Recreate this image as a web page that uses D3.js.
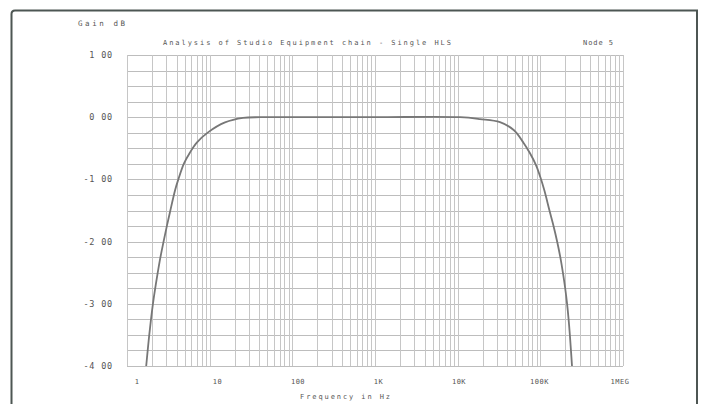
<!DOCTYPE html>
<html>
<head>
<meta charset="utf-8">
<script src="https://cdn.jsdelivr.net/npm/d3@7/dist/d3.min.js"></script>
<style>
  html, body { margin: 0; padding: 0; background: #fff; }
  svg text { font-family: "DejaVu Sans Mono", "Liberation Mono", monospace; fill: #555; }
</style>
</head>
<body>
<svg id="chart" width="705" height="404"></svg>
<script>
// ---- data ----
const freqHz = [1.707, 1.775, 1.856, 1.951, 2.063, 2.193, 2.346, 2.535, 2.756, 3.047, 3.304, 3.808, 4.14, 4.892, 5.782, 7.029, 9.546, 15.33, 25.3, 40.6, 100, 1000, 10670, 18600, 32500, 48000, 62500, 75000, 88600, 100400, 112000, 129000, 143900, 160400, 174400, 188100, 199800, 210200, 219800, 227900, 235000, 241600];
const gainDb = [-4.00, -3.765, -3.508, -3.251, -2.994, -2.752, -2.511, -2.254, -2.013, -1.740, -1.531, -1.177, -1.016, -0.743, -0.566, -0.405, -0.244, -0.084, -0.011, 0.00, 0.00, 0.00, 0.00, -0.03, -0.08, -0.21, -0.41, -0.58, -0.77, -0.97, -1.18, -1.50, -1.74, -2.01, -2.25, -2.51, -2.75, -2.99, -3.25, -3.51, -3.76, -4.00];
const yTickValues = [1, 0, -1, -2, -3, -4];
const yTickLabels = ["1 00", "0 00", "-1 00", "-2 00", "-3 00", "-4 00"];
const xTickValues = [1, 10, 100, 1000, 10000, 100000, 1000000];
const xTickLabels = ["1", "10", "100", "1K", "10K", "100K", "1MEG"];
const titleText = "Analysis of Studio Equipment chain - Single HLS";
const nodeText = "Node 5";
const yAxisTitle = "Gain  dB";
const xAxisTitle = "Frequency in Hz";

// ---- layout ----
const svg = d3.select("#chart");
const x = d3.scaleLog().domain([1, 1e6]).range([127, 623]);
const xLabel = d3.scaleLog().domain([1, 1e6]).range([137, 620]);
const y = d3.scaleLinear().domain([-4, 1]).range([366, 55]);

// outer frame
svg.append("path")
  .attr("d", "M11.5,404 L11.5,14 Q11.5,10.5 15,10.5 L697,10.5 L697,404")
  .attr("fill", "none").attr("stroke", "#4d5653").attr("stroke-width", 2);

// grid: horizontal every 0.25 dB
const hLines = d3.range(0, 21).map(i => -4 + i * 0.25);
svg.append("g").selectAll("line").data(hLines).join("line")
  .attr("x1", x(1)).attr("x2", x(1e6))
  .attr("y1", d => Math.round(y(d)) + 0.5).attr("y2", d => Math.round(y(d)) + 0.5)
  .attr("stroke", "#bdbdbd").attr("stroke-width", 1);

// grid: vertical at 1..9 x decade
const vLines = [];
for (let e = 0; e < 6; e++) for (let m = 1; m < 10; m++) vLines.push(m * Math.pow(10, e));
vLines.push(1e6);
svg.append("g").selectAll("line").data(vLines).join("line")
  .attr("x1", d => Math.round(x(d)) + 0.5).attr("x2", d => Math.round(x(d)) + 0.5)
  .attr("y1", y(1)).attr("y2", y(-4))
  .attr("stroke", "#c6c6c6").attr("stroke-width", 1);

// curve
const line = d3.line()
  .x((d, i) => x(freqHz[i]))
  .y(d => y(d))
  .curve(d3.curveCatmullRom.alpha(0.5));
svg.append("path").datum(gainDb)
  .attr("d", line)
  .attr("fill", "none").attr("stroke", "#777").attr("stroke-width", 1.8);

// y tick labels
svg.append("g").selectAll("text").data(yTickValues).join("text")
  .attr("x", 113).attr("y", d => y(d) + 3)
  .attr("text-anchor", "end")
  .attr("font-size", 8.5).attr("letter-spacing", 0.8)
  .text((d, i) => yTickLabels[i]);

// x tick labels
svg.append("g").selectAll("text").data(xTickValues).join("text")
  .attr("x", d => xLabel(d)).attr("y", 384)
  .attr("text-anchor", "middle")
  .attr("font-size", 7).attr("letter-spacing", 0.5)
  .text((d, i) => xTickLabels[i]);

// titles
svg.append("text").attr("x", 163).attr("y", 45)
  .attr("font-size", 7).attr("textLength", 288).attr("lengthAdjust", "spacing")
  .text(titleText);
svg.append("text").attr("x", 583).attr("y", 45)
  .attr("font-size", 7).attr("textLength", 30).attr("lengthAdjust", "spacing")
  .text(nodeText);
svg.append("text").attr("x", 78).attr("y", 26)
  .attr("font-size", 7.5).attr("textLength", 47).attr("lengthAdjust", "spacing")
  .text(yAxisTitle);
svg.append("text").attr("x", 300).attr("y", 399)
  .attr("font-size", 7).attr("textLength", 90).attr("lengthAdjust", "spacing")
  .text(xAxisTitle);
</script>
</body>
</html>
